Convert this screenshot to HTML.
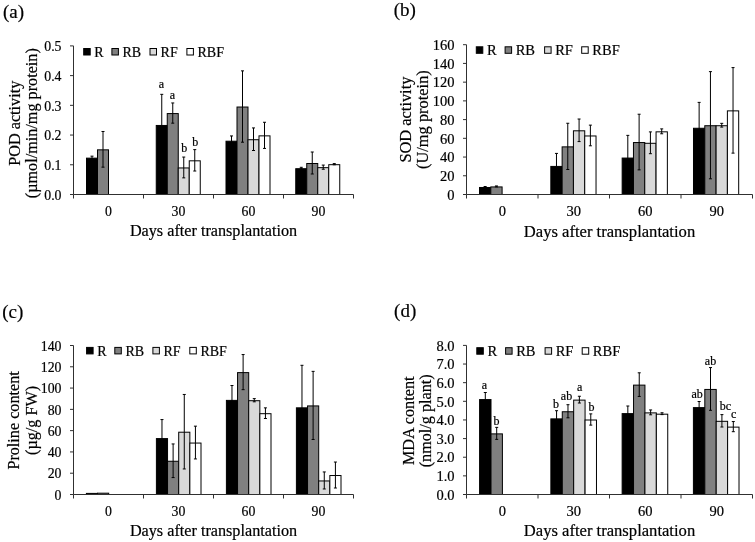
<!DOCTYPE html>
<html><head><meta charset="utf-8"><style>
html,body{margin:0;padding:0;background:#fff;}
svg{display:block;filter:grayscale(1) blur(0.35px);}
text{font-family:"Liberation Serif", serif;fill:#000;stroke:#000;stroke-width:0.2px;}
</style></head><body>
<svg width="755" height="542" viewBox="0 0 755 542">
<rect width="755" height="542" fill="#fff"/>
<text x="3" y="18.3" font-size="19">(a)</text>
<rect x="86.5" y="158.15" width="11" height="36.35" fill="#000000" stroke="#000" stroke-width="1"/>
<rect x="97.5" y="149.83" width="11" height="44.67" fill="#808080" stroke="#000" stroke-width="1"/>
<rect x="156.25" y="125.46" width="11" height="69.04" fill="#000000" stroke="#000" stroke-width="1"/>
<rect x="167.25" y="113.57" width="11" height="80.93" fill="#808080" stroke="#000" stroke-width="1"/>
<rect x="178.25" y="167.95" width="11" height="26.55" fill="#d9d9d9" stroke="#000" stroke-width="1"/>
<rect x="189.25" y="160.82" width="11" height="33.68" fill="#ffffff" stroke="#000" stroke-width="1"/>
<rect x="226" y="141.21" width="11" height="53.29" fill="#000000" stroke="#000" stroke-width="1"/>
<rect x="237" y="107.03" width="11" height="87.47" fill="#808080" stroke="#000" stroke-width="1"/>
<rect x="248" y="139.72" width="11" height="54.78" fill="#d9d9d9" stroke="#000" stroke-width="1"/>
<rect x="259" y="135.86" width="11" height="58.64" fill="#ffffff" stroke="#000" stroke-width="1"/>
<rect x="295.75" y="168.7" width="11" height="25.8" fill="#000000" stroke="#000" stroke-width="1"/>
<rect x="306.75" y="163.5" width="11" height="31" fill="#808080" stroke="#000" stroke-width="1"/>
<rect x="317.75" y="167.66" width="11" height="26.84" fill="#d9d9d9" stroke="#000" stroke-width="1"/>
<rect x="328.75" y="164.69" width="11" height="29.81" fill="#ffffff" stroke="#000" stroke-width="1"/>
<path d="M92 156.16V159.13M90.5 156.16h3M90.5 159.13h3" stroke="#000" stroke-width="1" fill="none"/>
<path d="M103 131.49V167.16M101.5 131.49h3M101.5 167.16h3" stroke="#000" stroke-width="1" fill="none"/>
<path d="M161.75 94.34V155.57M160.25 94.34h3M160.25 155.57h3" stroke="#000" stroke-width="1" fill="none"/>
<path d="M172.75 102.96V123.17M171.25 102.96h3M171.25 123.17h3" stroke="#000" stroke-width="1" fill="none"/>
<path d="M183.75 157.05V177.86M182.25 157.05h3M182.25 177.86h3" stroke="#000" stroke-width="1" fill="none"/>
<path d="M194.75 149.62V171.02M193.25 149.62h3M193.25 171.02h3" stroke="#000" stroke-width="1" fill="none"/>
<path d="M231.5 135.95V145.46M230 135.95h3M230 145.46h3" stroke="#000" stroke-width="1" fill="none"/>
<path d="M242.5 70.86V142.19M241 70.86h3M241 142.19h3" stroke="#000" stroke-width="1" fill="none"/>
<path d="M253.5 127.93V150.51M252 127.93h3M252 150.51h3" stroke="#000" stroke-width="1" fill="none"/>
<path d="M264.5 122.28V148.43M263 122.28h3M263 148.43h3" stroke="#000" stroke-width="1" fill="none"/>
<path d="M301.25 167.31V169.09M299.75 167.31h3M299.75 169.09h3" stroke="#000" stroke-width="1" fill="none"/>
<path d="M312.25 152V173.99M310.75 152h3M310.75 173.99h3" stroke="#000" stroke-width="1" fill="none"/>
<path d="M323.25 165.08V169.24M321.75 165.08h3M321.75 169.24h3" stroke="#000" stroke-width="1" fill="none"/>
<path d="M334.25 163.59V164.78M332.75 163.59h3M332.75 164.78h3" stroke="#000" stroke-width="1" fill="none"/>
<path d="M73.5 45.9V194.5H353.5" stroke="#303030" stroke-width="1" fill="none"/>
<path d="M70 194.5H73.5" stroke="#303030" stroke-width="1"/>
<text x="61.5" y="199.7" font-size="13.8" text-anchor="end">0.0</text>
<path d="M70 164.78H73.5" stroke="#303030" stroke-width="1"/>
<text x="61.5" y="169.98" font-size="13.8" text-anchor="end">0.1</text>
<path d="M70 135.06H73.5" stroke="#303030" stroke-width="1"/>
<text x="61.5" y="140.26" font-size="13.8" text-anchor="end">0.2</text>
<path d="M70 105.34H73.5" stroke="#303030" stroke-width="1"/>
<text x="61.5" y="110.54" font-size="13.8" text-anchor="end">0.3</text>
<path d="M70 75.62H73.5" stroke="#303030" stroke-width="1"/>
<text x="61.5" y="80.82" font-size="13.8" text-anchor="end">0.4</text>
<path d="M70 45.9H73.5" stroke="#303030" stroke-width="1"/>
<text x="61.5" y="51.1" font-size="13.8" text-anchor="end">0.5</text>
<path d="M73.5 194.5V198.5" stroke="#303030" stroke-width="1"/>
<path d="M143.5 194.5V198.5" stroke="#303030" stroke-width="1"/>
<path d="M213.5 194.5V198.5" stroke="#303030" stroke-width="1"/>
<path d="M283.5 194.5V198.5" stroke="#303030" stroke-width="1"/>
<path d="M353.5 194.5V198.5" stroke="#303030" stroke-width="1"/>
<text x="108.5" y="216" font-size="13.8" text-anchor="middle">0</text>
<text x="178.5" y="216" font-size="13.8" text-anchor="middle">30</text>
<text x="248.5" y="216" font-size="13.8" text-anchor="middle">60</text>
<text x="318.5" y="216" font-size="13.8" text-anchor="middle">90</text>
<text x="161.4" y="87.7" font-size="12" text-anchor="middle">a</text>
<text x="172.3" y="98.6" font-size="12" text-anchor="middle">a</text>
<text x="184.3" y="151.6" font-size="12" text-anchor="middle">b</text>
<text x="195.3" y="145.7" font-size="12" text-anchor="middle">b</text>
<rect x="83.7" y="48.5" width="6.5" height="6.5" fill="#000000" stroke="#000" stroke-width="1"/>
<text x="94.3" y="57" font-size="14">R</text>
<rect x="111.9" y="48.5" width="6.5" height="6.5" fill="#808080" stroke="#000" stroke-width="1"/>
<text x="122.5" y="57" font-size="14">RB</text>
<rect x="150" y="48.5" width="6.5" height="6.5" fill="#d9d9d9" stroke="#000" stroke-width="1"/>
<text x="160.6" y="57" font-size="14">RF</text>
<rect x="186.9" y="48.5" width="6.5" height="6.5" fill="#ffffff" stroke="#000" stroke-width="1"/>
<text x="197.5" y="57" font-size="14">RBF</text>
<text x="213.5" y="235.5" font-size="16.2" text-anchor="middle">Days after transplantation</text>
<text transform="translate(20.4,123.2) rotate(-90)" x="0" y="0" font-size="16.2" text-anchor="middle">POD activity</text>
<text transform="translate(37.4,123.2) rotate(-90)" x="0" y="0" font-size="16.2" text-anchor="middle">(µmol/min/mg protein)</text>
<text x="393.8" y="15.5" font-size="19">(b)</text>
<rect x="479.5" y="187.48" width="11.3" height="7.02" fill="#000000" stroke="#000" stroke-width="1"/>
<rect x="490.8" y="186.92" width="11.3" height="7.58" fill="#808080" stroke="#000" stroke-width="1"/>
<rect x="550.83" y="166.42" width="11.3" height="28.08" fill="#000000" stroke="#000" stroke-width="1"/>
<rect x="562.13" y="146.87" width="11.3" height="47.63" fill="#808080" stroke="#000" stroke-width="1"/>
<rect x="573.43" y="130.8" width="11.3" height="63.7" fill="#d9d9d9" stroke="#000" stroke-width="1"/>
<rect x="584.73" y="135.97" width="11.3" height="58.53" fill="#ffffff" stroke="#000" stroke-width="1"/>
<rect x="622.16" y="158.06" width="11.3" height="36.44" fill="#000000" stroke="#000" stroke-width="1"/>
<rect x="633.46" y="142.55" width="11.3" height="51.95" fill="#808080" stroke="#000" stroke-width="1"/>
<rect x="644.76" y="143.3" width="11.3" height="51.2" fill="#d9d9d9" stroke="#000" stroke-width="1"/>
<rect x="656.06" y="131.83" width="11.3" height="62.67" fill="#ffffff" stroke="#000" stroke-width="1"/>
<rect x="693.49" y="128.26" width="11.3" height="66.24" fill="#000000" stroke="#000" stroke-width="1"/>
<rect x="704.79" y="125.72" width="11.3" height="68.78" fill="#808080" stroke="#000" stroke-width="1"/>
<rect x="716.09" y="125.72" width="11.3" height="68.78" fill="#d9d9d9" stroke="#000" stroke-width="1"/>
<rect x="727.39" y="110.87" width="11.3" height="83.63" fill="#ffffff" stroke="#000" stroke-width="1"/>
<path d="M485.15 186.51V187.45M483.65 186.51h3M483.65 187.45h3" stroke="#000" stroke-width="1" fill="none"/>
<path d="M496.45 185.95V186.89M494.95 185.95h3M494.95 186.89h3" stroke="#000" stroke-width="1" fill="none"/>
<path d="M556.48 153.42V178.43M554.98 153.42h3M554.98 178.43h3" stroke="#000" stroke-width="1" fill="none"/>
<path d="M567.78 123.25V169.5M566.28 123.25h3M566.28 169.5h3" stroke="#000" stroke-width="1" fill="none"/>
<path d="M579.08 119.02V141.58M577.58 119.02h3M577.58 141.58h3" stroke="#000" stroke-width="1" fill="none"/>
<path d="M590.38 125.13V145.81M588.88 125.13h3M588.88 145.81h3" stroke="#000" stroke-width="1" fill="none"/>
<path d="M627.81 135.37V179.74M626.31 135.37h3M626.31 179.74h3" stroke="#000" stroke-width="1" fill="none"/>
<path d="M639.11 114.22V169.87M637.61 114.22h3M637.61 169.87h3" stroke="#000" stroke-width="1" fill="none"/>
<path d="M650.41 131.9V153.7M648.91 131.9h3M648.91 153.7h3" stroke="#000" stroke-width="1" fill="none"/>
<path d="M661.71 128.89V133.78M660.21 128.89h3M660.21 133.78h3" stroke="#000" stroke-width="1" fill="none"/>
<path d="M699.14 102.38V153.14M697.64 102.38h3M697.64 153.14h3" stroke="#000" stroke-width="1" fill="none"/>
<path d="M710.44 71.64V178.8M708.94 71.64h3M708.94 178.8h3" stroke="#000" stroke-width="1" fill="none"/>
<path d="M721.74 123.34V127.1M720.24 123.34h3M720.24 127.1h3" stroke="#000" stroke-width="1" fill="none"/>
<path d="M733.04 67.6V153.14M731.54 67.6h3M731.54 153.14h3" stroke="#000" stroke-width="1" fill="none"/>
<path d="M466.5 44.7V194.5H752.5" stroke="#303030" stroke-width="1" fill="none"/>
<path d="M463 194.5H466.5" stroke="#303030" stroke-width="1"/>
<text x="454.5" y="199.7" font-size="14.5" text-anchor="end">0</text>
<path d="M463 175.78H466.5" stroke="#303030" stroke-width="1"/>
<text x="454.5" y="180.97" font-size="14.5" text-anchor="end">20</text>
<path d="M463 157.05H466.5" stroke="#303030" stroke-width="1"/>
<text x="454.5" y="162.25" font-size="14.5" text-anchor="end">40</text>
<path d="M463 138.32H466.5" stroke="#303030" stroke-width="1"/>
<text x="454.5" y="143.52" font-size="14.5" text-anchor="end">60</text>
<path d="M463 119.6H466.5" stroke="#303030" stroke-width="1"/>
<text x="454.5" y="124.8" font-size="14.5" text-anchor="end">80</text>
<path d="M463 100.88H466.5" stroke="#303030" stroke-width="1"/>
<text x="454.5" y="106.08" font-size="14.5" text-anchor="end">100</text>
<path d="M463 82.15H466.5" stroke="#303030" stroke-width="1"/>
<text x="454.5" y="87.35" font-size="14.5" text-anchor="end">120</text>
<path d="M463 63.42H466.5" stroke="#303030" stroke-width="1"/>
<text x="454.5" y="68.62" font-size="14.5" text-anchor="end">140</text>
<path d="M463 44.7H466.5" stroke="#303030" stroke-width="1"/>
<text x="454.5" y="49.9" font-size="14.5" text-anchor="end">160</text>
<path d="M466.5 194.5V198.5" stroke="#303030" stroke-width="1"/>
<path d="M538 194.5V198.5" stroke="#303030" stroke-width="1"/>
<path d="M609.5 194.5V198.5" stroke="#303030" stroke-width="1"/>
<path d="M681 194.5V198.5" stroke="#303030" stroke-width="1"/>
<path d="M752.5 194.5V198.5" stroke="#303030" stroke-width="1"/>
<text x="502.25" y="216" font-size="14.5" text-anchor="middle">0</text>
<text x="573.75" y="216" font-size="14.5" text-anchor="middle">30</text>
<text x="645.25" y="216" font-size="14.5" text-anchor="middle">60</text>
<text x="716.75" y="216" font-size="14.5" text-anchor="middle">90</text>
<rect x="476.3" y="46.8" width="6.5" height="6.5" fill="#000000" stroke="#000" stroke-width="1"/>
<text x="486.9" y="54.6" font-size="14.5">R</text>
<rect x="505.1" y="46.8" width="6.5" height="6.5" fill="#808080" stroke="#000" stroke-width="1"/>
<text x="515.7" y="54.6" font-size="14.5">RB</text>
<rect x="544.6" y="46.8" width="6.5" height="6.5" fill="#d9d9d9" stroke="#000" stroke-width="1"/>
<text x="555.2" y="54.6" font-size="14.5">RF</text>
<rect x="581.7" y="46.8" width="6.5" height="6.5" fill="#ffffff" stroke="#000" stroke-width="1"/>
<text x="592.3" y="54.6" font-size="14.5">RBF</text>
<text x="609.5" y="236.5" font-size="16.6" text-anchor="middle">Days after transplantation</text>
<text transform="translate(411.2,119.6) rotate(-90)" x="0" y="0" font-size="16.4" text-anchor="middle">SOD activity</text>
<text transform="translate(428,119.6) rotate(-90)" x="0" y="0" font-size="16.4" text-anchor="middle">(U/mg protein)</text>
<text x="2.3" y="317.7" font-size="19">(c)</text>
<rect x="86.4" y="493.4" width="11.15" height="1.1" fill="#000000" stroke="#000" stroke-width="1"/>
<rect x="97.55" y="493.19" width="11.15" height="1.31" fill="#808080" stroke="#000" stroke-width="1"/>
<rect x="156.4" y="438.59" width="11.15" height="55.91" fill="#000000" stroke="#000" stroke-width="1"/>
<rect x="167.55" y="461.26" width="11.15" height="33.24" fill="#808080" stroke="#000" stroke-width="1"/>
<rect x="178.7" y="432.21" width="11.15" height="62.29" fill="#d9d9d9" stroke="#000" stroke-width="1"/>
<rect x="189.85" y="443.06" width="11.15" height="51.44" fill="#ffffff" stroke="#000" stroke-width="1"/>
<rect x="226.4" y="400.38" width="11.15" height="94.12" fill="#000000" stroke="#000" stroke-width="1"/>
<rect x="237.55" y="372.61" width="11.15" height="121.89" fill="#808080" stroke="#000" stroke-width="1"/>
<rect x="248.7" y="400.7" width="11.15" height="93.8" fill="#d9d9d9" stroke="#000" stroke-width="1"/>
<rect x="259.85" y="413.69" width="11.15" height="80.81" fill="#ffffff" stroke="#000" stroke-width="1"/>
<rect x="296.4" y="407.83" width="11.15" height="86.67" fill="#000000" stroke="#000" stroke-width="1"/>
<rect x="307.55" y="405.92" width="11.15" height="88.58" fill="#808080" stroke="#000" stroke-width="1"/>
<rect x="318.7" y="480.95" width="11.15" height="13.55" fill="#d9d9d9" stroke="#000" stroke-width="1"/>
<rect x="329.85" y="475.52" width="11.15" height="18.98" fill="#ffffff" stroke="#000" stroke-width="1"/>
<path d="M161.97 419.57V456.61M160.47 419.57h3M160.47 456.61h3" stroke="#000" stroke-width="1" fill="none"/>
<path d="M173.12 443.95V477.58M171.62 443.95h3M171.62 477.58h3" stroke="#000" stroke-width="1" fill="none"/>
<path d="M184.28 394.46V468.96M182.78 394.46h3M182.78 468.96h3" stroke="#000" stroke-width="1" fill="none"/>
<path d="M195.43 426.17V458.95M193.93 426.17h3M193.93 458.95h3" stroke="#000" stroke-width="1" fill="none"/>
<path d="M231.97 385.52V414.25M230.47 385.52h3M230.47 414.25h3" stroke="#000" stroke-width="1" fill="none"/>
<path d="M243.12 354.55V389.67M241.62 354.55h3M241.62 389.67h3" stroke="#000" stroke-width="1" fill="none"/>
<path d="M254.28 398.61V401.8M252.78 398.61h3M252.78 401.8h3" stroke="#000" stroke-width="1" fill="none"/>
<path d="M265.43 407.87V418.51M263.93 407.87h3M263.93 418.51h3" stroke="#000" stroke-width="1" fill="none"/>
<path d="M301.97 365.3V449.37M300.47 365.3h3M300.47 449.37h3" stroke="#000" stroke-width="1" fill="none"/>
<path d="M313.12 371.36V439.48M311.62 371.36h3M311.62 439.48h3" stroke="#000" stroke-width="1" fill="none"/>
<path d="M324.27 471.94V488.97M322.77 471.94h3M322.77 488.97h3" stroke="#000" stroke-width="1" fill="none"/>
<path d="M335.42 462.04V488.01M333.92 462.04h3M333.92 488.01h3" stroke="#000" stroke-width="1" fill="none"/>
<path d="M73.5 345.5V494.5H353.5" stroke="#303030" stroke-width="1" fill="none"/>
<path d="M70 494.5H73.5" stroke="#303030" stroke-width="1"/>
<text x="61.5" y="499.7" font-size="13.8" text-anchor="end">0</text>
<path d="M70 473.21H73.5" stroke="#303030" stroke-width="1"/>
<text x="61.5" y="478.41" font-size="13.8" text-anchor="end">20</text>
<path d="M70 451.93H73.5" stroke="#303030" stroke-width="1"/>
<text x="61.5" y="457.13" font-size="13.8" text-anchor="end">40</text>
<path d="M70 430.64H73.5" stroke="#303030" stroke-width="1"/>
<text x="61.5" y="435.84" font-size="13.8" text-anchor="end">60</text>
<path d="M70 409.36H73.5" stroke="#303030" stroke-width="1"/>
<text x="61.5" y="414.56" font-size="13.8" text-anchor="end">80</text>
<path d="M70 388.07H73.5" stroke="#303030" stroke-width="1"/>
<text x="61.5" y="393.27" font-size="13.8" text-anchor="end">100</text>
<path d="M70 366.79H73.5" stroke="#303030" stroke-width="1"/>
<text x="61.5" y="371.99" font-size="13.8" text-anchor="end">120</text>
<path d="M70 345.5H73.5" stroke="#303030" stroke-width="1"/>
<text x="61.5" y="350.7" font-size="13.8" text-anchor="end">140</text>
<path d="M73.5 494.5V498.5" stroke="#303030" stroke-width="1"/>
<path d="M143.5 494.5V498.5" stroke="#303030" stroke-width="1"/>
<path d="M213.5 494.5V498.5" stroke="#303030" stroke-width="1"/>
<path d="M283.5 494.5V498.5" stroke="#303030" stroke-width="1"/>
<path d="M353.5 494.5V498.5" stroke="#303030" stroke-width="1"/>
<text x="108.5" y="516" font-size="13.8" text-anchor="middle">0</text>
<text x="178.5" y="516" font-size="13.8" text-anchor="middle">30</text>
<text x="248.5" y="516" font-size="13.8" text-anchor="middle">60</text>
<text x="318.5" y="516" font-size="13.8" text-anchor="middle">90</text>
<rect x="86.6" y="347.4" width="6.5" height="6.5" fill="#000000" stroke="#000" stroke-width="1"/>
<text x="97.2" y="355.9" font-size="14">R</text>
<rect x="114.8" y="347.4" width="6.5" height="6.5" fill="#808080" stroke="#000" stroke-width="1"/>
<text x="125.4" y="355.9" font-size="14">RB</text>
<rect x="152.9" y="347.4" width="6.5" height="6.5" fill="#d9d9d9" stroke="#000" stroke-width="1"/>
<text x="163.5" y="355.9" font-size="14">RF</text>
<rect x="189.8" y="347.4" width="6.5" height="6.5" fill="#ffffff" stroke="#000" stroke-width="1"/>
<text x="200.4" y="355.9" font-size="14">RBF</text>
<text x="213.5" y="535.8" font-size="16.2" text-anchor="middle">Days after transplantation</text>
<text transform="translate(19.4,420.4) rotate(-90)" x="0" y="0" font-size="16.2" text-anchor="middle">Proline content</text>
<text transform="translate(36.5,420.4) rotate(-90)" x="0" y="0" font-size="16.2" text-anchor="middle">(µg/g FW)</text>
<text x="394.1" y="317.1" font-size="19">(d)</text>
<rect x="479.6" y="399.56" width="11.4" height="94.94" fill="#000000" stroke="#000" stroke-width="1"/>
<rect x="491" y="433.88" width="11.4" height="60.62" fill="#808080" stroke="#000" stroke-width="1"/>
<rect x="550.87" y="418.88" width="11.4" height="75.62" fill="#000000" stroke="#000" stroke-width="1"/>
<rect x="562.27" y="411.75" width="11.4" height="82.75" fill="#808080" stroke="#000" stroke-width="1"/>
<rect x="573.67" y="400.12" width="11.4" height="94.38" fill="#d9d9d9" stroke="#000" stroke-width="1"/>
<rect x="585.07" y="420" width="11.4" height="74.5" fill="#ffffff" stroke="#000" stroke-width="1"/>
<rect x="622.14" y="413.62" width="11.4" height="80.88" fill="#000000" stroke="#000" stroke-width="1"/>
<rect x="633.54" y="385.12" width="11.4" height="109.38" fill="#808080" stroke="#000" stroke-width="1"/>
<rect x="644.94" y="412.88" width="11.4" height="81.62" fill="#d9d9d9" stroke="#000" stroke-width="1"/>
<rect x="656.34" y="414.19" width="11.4" height="80.31" fill="#ffffff" stroke="#000" stroke-width="1"/>
<rect x="693.41" y="407.62" width="11.4" height="86.88" fill="#000000" stroke="#000" stroke-width="1"/>
<rect x="704.81" y="389.44" width="11.4" height="105.06" fill="#808080" stroke="#000" stroke-width="1"/>
<rect x="716.21" y="421.31" width="11.4" height="73.19" fill="#d9d9d9" stroke="#000" stroke-width="1"/>
<rect x="727.61" y="427.12" width="11.4" height="67.38" fill="#ffffff" stroke="#000" stroke-width="1"/>
<path d="M485.3 392.5V405.62M483.8 392.5h3M483.8 405.62h3" stroke="#000" stroke-width="1" fill="none"/>
<path d="M496.7 427.38V439.38M495.2 427.38h3M495.2 439.38h3" stroke="#000" stroke-width="1" fill="none"/>
<path d="M556.57 410.69V426.06M555.07 410.69h3M555.07 426.06h3" stroke="#000" stroke-width="1" fill="none"/>
<path d="M567.97 404.69V417.81M566.47 404.69h3M566.47 417.81h3" stroke="#000" stroke-width="1" fill="none"/>
<path d="M579.37 396.25V403M577.87 396.25h3M577.87 403h3" stroke="#000" stroke-width="1" fill="none"/>
<path d="M590.77 413.88V425.12M589.27 413.88h3M589.27 425.12h3" stroke="#000" stroke-width="1" fill="none"/>
<path d="M627.84 406V420.25M626.34 406h3M626.34 420.25h3" stroke="#000" stroke-width="1" fill="none"/>
<path d="M639.24 372.81V396.44M637.74 372.81h3M637.74 396.44h3" stroke="#000" stroke-width="1" fill="none"/>
<path d="M650.64 409.94V414.81M649.14 409.94h3M649.14 414.81h3" stroke="#000" stroke-width="1" fill="none"/>
<path d="M662.04 412.75V414.62M660.54 412.75h3M660.54 414.62h3" stroke="#000" stroke-width="1" fill="none"/>
<path d="M699.11 401.5V412.75M697.61 401.5h3M697.61 412.75h3" stroke="#000" stroke-width="1" fill="none"/>
<path d="M710.51 367.56V410.31M709.01 367.56h3M709.01 410.31h3" stroke="#000" stroke-width="1" fill="none"/>
<path d="M721.91 414.62V427M720.41 414.62h3M720.41 427h3" stroke="#000" stroke-width="1" fill="none"/>
<path d="M733.31 421.56V431.69M731.81 421.56h3M731.81 431.69h3" stroke="#000" stroke-width="1" fill="none"/>
<path d="M466.5 345.4V494.5H752.5" stroke="#303030" stroke-width="1" fill="none"/>
<path d="M463 494.5H466.5" stroke="#303030" stroke-width="1"/>
<text x="454.5" y="499.7" font-size="14.5" text-anchor="end">0.0</text>
<path d="M463 475.86H466.5" stroke="#303030" stroke-width="1"/>
<text x="454.5" y="481.06" font-size="14.5" text-anchor="end">1.0</text>
<path d="M463 457.23H466.5" stroke="#303030" stroke-width="1"/>
<text x="454.5" y="462.43" font-size="14.5" text-anchor="end">2.0</text>
<path d="M463 438.59H466.5" stroke="#303030" stroke-width="1"/>
<text x="454.5" y="443.79" font-size="14.5" text-anchor="end">3.0</text>
<path d="M463 419.95H466.5" stroke="#303030" stroke-width="1"/>
<text x="454.5" y="425.15" font-size="14.5" text-anchor="end">4.0</text>
<path d="M463 401.31H466.5" stroke="#303030" stroke-width="1"/>
<text x="454.5" y="406.51" font-size="14.5" text-anchor="end">5.0</text>
<path d="M463 382.67H466.5" stroke="#303030" stroke-width="1"/>
<text x="454.5" y="387.87" font-size="14.5" text-anchor="end">6.0</text>
<path d="M463 364.04H466.5" stroke="#303030" stroke-width="1"/>
<text x="454.5" y="369.24" font-size="14.5" text-anchor="end">7.0</text>
<path d="M463 345.4H466.5" stroke="#303030" stroke-width="1"/>
<text x="454.5" y="350.6" font-size="14.5" text-anchor="end">8.0</text>
<path d="M466.5 494.5V498.5" stroke="#303030" stroke-width="1"/>
<path d="M538 494.5V498.5" stroke="#303030" stroke-width="1"/>
<path d="M609.5 494.5V498.5" stroke="#303030" stroke-width="1"/>
<path d="M681 494.5V498.5" stroke="#303030" stroke-width="1"/>
<path d="M752.5 494.5V498.5" stroke="#303030" stroke-width="1"/>
<text x="502.25" y="516" font-size="14.5" text-anchor="middle">0</text>
<text x="573.75" y="516" font-size="14.5" text-anchor="middle">30</text>
<text x="645.25" y="516" font-size="14.5" text-anchor="middle">60</text>
<text x="716.75" y="516" font-size="14.5" text-anchor="middle">90</text>
<text x="484.4" y="389.2" font-size="12" text-anchor="middle">a</text>
<text x="496.4" y="424.7" font-size="12" text-anchor="middle">b</text>
<text x="556.1" y="408" font-size="12" text-anchor="middle">b</text>
<text x="566.5" y="400" font-size="12" text-anchor="middle">ab</text>
<text x="579.7" y="390.6" font-size="12" text-anchor="middle">a</text>
<text x="591.4" y="410.6" font-size="12" text-anchor="middle">b</text>
<text x="697.2" y="397.6" font-size="12" text-anchor="middle">ab</text>
<text x="710.5" y="364.8" font-size="12" text-anchor="middle">ab</text>
<text x="725.5" y="410.3" font-size="12" text-anchor="middle">bc</text>
<text x="733.7" y="417.7" font-size="12" text-anchor="middle">c</text>
<rect x="476.8" y="347.7" width="6.5" height="6.5" fill="#000000" stroke="#000" stroke-width="1"/>
<text x="487.4" y="355.5" font-size="14.5">R</text>
<rect x="505.6" y="347.7" width="6.5" height="6.5" fill="#808080" stroke="#000" stroke-width="1"/>
<text x="516.2" y="355.5" font-size="14.5">RB</text>
<rect x="545.1" y="347.7" width="6.5" height="6.5" fill="#d9d9d9" stroke="#000" stroke-width="1"/>
<text x="555.7" y="355.5" font-size="14.5">RF</text>
<rect x="582.2" y="347.7" width="6.5" height="6.5" fill="#ffffff" stroke="#000" stroke-width="1"/>
<text x="592.8" y="355.5" font-size="14.5">RBF</text>
<text x="609.5" y="536" font-size="16.6" text-anchor="middle">Days after transplantation</text>
<text transform="translate(414.4,420.8) rotate(-90)" x="0" y="0" font-size="16.2" text-anchor="middle">MDA content</text>
<text transform="translate(430.5,420.8) rotate(-90)" x="0" y="0" font-size="16.2" text-anchor="middle">(nmol/g plant)</text>
</svg>
</body></html>
